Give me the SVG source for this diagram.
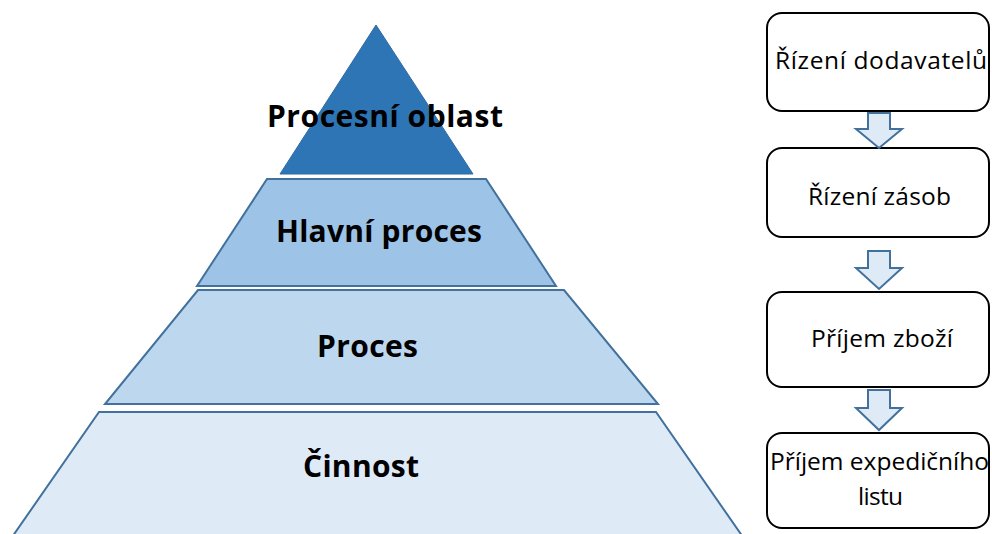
<svg xmlns="http://www.w3.org/2000/svg" width="992" height="534" viewBox="0 0 992 534">
  <style>
    .tier { stroke: #41719c; stroke-width: 2; stroke-linejoin: miter; }
    .tier-label { font-family: "Open Sans", "Liberation Sans", sans-serif; font-weight: bold; font-size: 30px; fill: #000; }
    .step { fill: #ffffff; stroke: #000000; stroke-width: 2; }
    .step-label { font-family: "Open Sans", "Liberation Sans", sans-serif; font-size: 24.5px; fill: #000; }
    .flow { fill: #deebf7; stroke: #41719c; stroke-width: 2; stroke-linejoin: miter; }
  </style>

  <rect width="992" height="534" fill="#ffffff"/>

  <!-- Hierarchy pyramid -->
  <g id="tier-procesni-oblast">
    <polygon points="376,25 473,174 280,174" fill="#2e75b6" stroke="#2e6aa6" stroke-width="1"/>
    <text class="tier-label" x="267" y="126.5" textLength="236">Procesní oblast</text>
  </g>
  <g id="tier-hlavni-proces">
    <polygon class="tier" points="267,179 486,179 556,286 197,286" fill="#9dc3e6"/>
    <text class="tier-label" x="276" y="242" textLength="206">Hlavní proces</text>
  </g>
  <g id="tier-proces">
    <polygon class="tier" points="198,290 564,290 658,404 105,404" fill="#bdd7ee"/>
    <text class="tier-label" x="317" y="356.5" textLength="101">Proces</text>
  </g>
  <g id="tier-cinnost">
    <polygon class="tier" points="99,412 656,412 745,540 10,540" fill="#deebf7"/>
    <text class="tier-label" x="303" y="476.5" textLength="116">Činnost</text>
  </g>

  <!-- Process chain -->
  <g id="step-rizeni-dodavatelu">
    <rect class="step" x="767" y="13" width="222" height="98" rx="15" ry="15"/>
    <text class="step-label" x="775" y="68.5" textLength="212">Řízení dodavatelů</text>
  </g>
  <g id="step-rizeni-zasob">
    <rect class="step" x="767" y="148" width="222" height="89" rx="15" ry="15"/>
    <text class="step-label" x="808" y="205" textLength="143">Řízení zásob</text>
  </g>
  <g id="step-prijem-zbozi">
    <rect class="step" x="767" y="292" width="222" height="95" rx="15" ry="15"/>
    <text class="step-label" x="811" y="347" textLength="142">Příjem zboží</text>
  </g>
  <g id="step-prijem-expedicniho-listu">
    <rect class="step" x="767" y="433" width="222" height="95" rx="15" ry="15"/>
    <text class="step-label" x="770" y="470" textLength="219">Příjem expedičního</text>
    <text class="step-label" x="858" y="505" textLength="45">listu</text>
  </g>

  <!-- Block arrows between steps -->
  <g id="connectors">
    <polygon class="flow" points="868,113 890,113 890,129 902,129 879,148 856,129 868,129"/>
    <polygon class="flow" points="868,251 890,251 890,268 902,268 879,289 856,268 868,268"/>
    <polygon class="flow" points="868,390 890,390 890,408 902,408 879,430 856,408 868,408"/>
  </g>
</svg>
